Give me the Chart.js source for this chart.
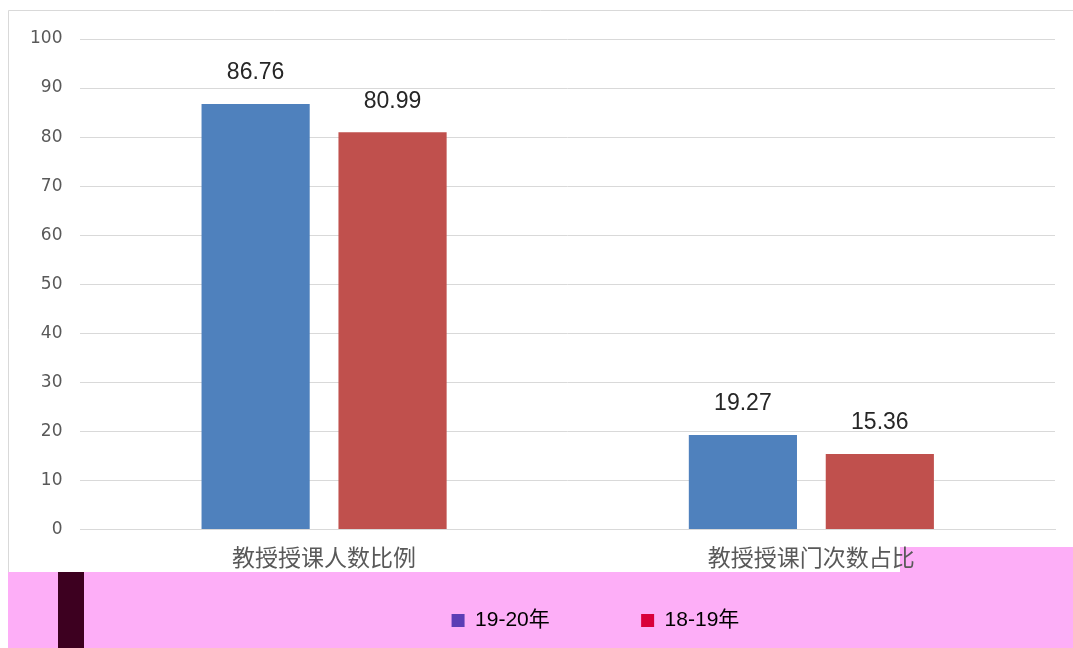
<!DOCTYPE html>
<html>
<head>
<meta charset="utf-8">
<script src="https://cdn.jsdelivr.net/npm/chart.js@4/dist/chart.umd.min.js"></script>
<style>
  html, body { margin: 0; padding: 0; background: #ffffff; }
  #wrap { width: 1073px; height: 648px; position: relative; }
</style>
</head>
<body>
<div id="wrap"><canvas id="c"></canvas></div>
<script>
const categories = ['教授授课人数比例', '教授授课门次数占比'];
const seriesNames = ['19-20年', '18-19年'];
const values1920 = [86.76, 19.27];
const values1819 = [80.99, 15.36];
const yMin = 0, yMax = 100, yStep = 10;

const barColors = ['#4f81bd', '#c0504d'];
const legendBoxColors = ['#5b3db5', '#d9003b'];

const backdropPlugin = {
  id: 'backdrop',
  beforeDraw(chart) {
    const ctx = chart.ctx;
    const W = chart.width, H = chart.height;
    ctx.save();
    ctx.fillStyle = '#ffffff';
    ctx.fillRect(0, 0, W, H);
    ctx.strokeStyle = '#d9d9d9';
    ctx.lineWidth = 1;
    ctx.beginPath();
    ctx.moveTo(8.5, H);
    ctx.lineTo(8.5, 10.5);
    ctx.lineTo(W, 10.5);
    ctx.stroke();
    ctx.fillStyle = '#fdaef7';
    ctx.fillRect(8, 572, W - 8, H - 572);
    ctx.fillRect(900, 547, W - 900, 26);
    ctx.fillStyle = '#3d0020';
    ctx.fillRect(58, 572, 26, H - 572);
    ctx.restore();
  }
};

const valueLabelPlugin = {
  id: 'valueLabels',
  afterDatasetsDraw(chart) {
    const ctx = chart.ctx;
    ctx.save();
    ctx.font = '23px "Liberation Sans", Arial, sans-serif';
    ctx.fillStyle = '#262626';
    ctx.textAlign = 'center';
    ctx.textBaseline = 'middle';
    chart.data.datasets.forEach((ds, i) => {
      const meta = chart.getDatasetMeta(i);
      meta.data.forEach((bar, j) => {
        ctx.fillText(ds.data[j].toFixed(2), bar.x, bar.y - 31);
      });
    });
    ctx.restore();
  }
};

new Chart(document.getElementById('c'), {
  type: 'bar',
  data: {
    labels: categories,
    datasets: [
      { label: seriesNames[0], data: values1920, backgroundColor: barColors[0],
        categoryPercentage: 0.562, barPercentage: 0.79 },
      { label: seriesNames[1], data: values1819, backgroundColor: barColors[1],
        categoryPercentage: 0.562, barPercentage: 0.79 }
    ]
  },
  options: {
    responsive: true,
    maintainAspectRatio: false,
    animation: false,
    layout: { padding: { top: 39, left: 12, right: 18, bottom: 7 } },
    plugins: {
      tooltip: { enabled: false },
      legend: {
        position: 'bottom',
        align: 'start',
        onClick: () => {},
        labels: {
          boxWidth: 13,
          boxHeight: 13,
          padding: 33,
          color: '#5e1a4e',
          font: { size: 21, family: '"Liberation Sans", "Noto Sans CJK SC", sans-serif' },
          generateLabels(chart) {
            const items = [{
              text: ' '.repeat(60),
              fillStyle: 'rgba(0,0,0,0)',
              strokeStyle: 'rgba(0,0,0,0)',
              lineWidth: 0,
              hidden: false
            }];
            chart.data.datasets.forEach((ds, i) => {
              items.push({
                text: i === 0 ? ds.label + ' '.repeat(10) : ds.label,
                fillStyle: legendBoxColors[i],
                strokeStyle: legendBoxColors[i],
                lineWidth: 0,
                hidden: false,
                datasetIndex: i
              });
            });
            return items;
          }
        }
      }
    },
    scales: {
      x: {
        grid: { display: false },
        border: { display: true, color: '#d9d9d9', width: 1 },
        ticks: {
          color: '#595959',
          padding: 6,
          font: { size: 23, family: '"Noto Sans CJK SC", sans-serif' }
        }
      },
      y: {
        min: yMin,
        max: yMax,
        border: { display: false },
        grid: { color: '#d9d9d9', lineWidth: 1, drawTicks: false },
        ticks: {
          stepSize: yStep,
          color: '#595959',
          padding: 18,
          font: { size: 17, family: '"DejaVu Sans", sans-serif' }
        }
      }
    }
  },
  plugins: [backdropPlugin, valueLabelPlugin]
});
</script>
</body>
</html>
